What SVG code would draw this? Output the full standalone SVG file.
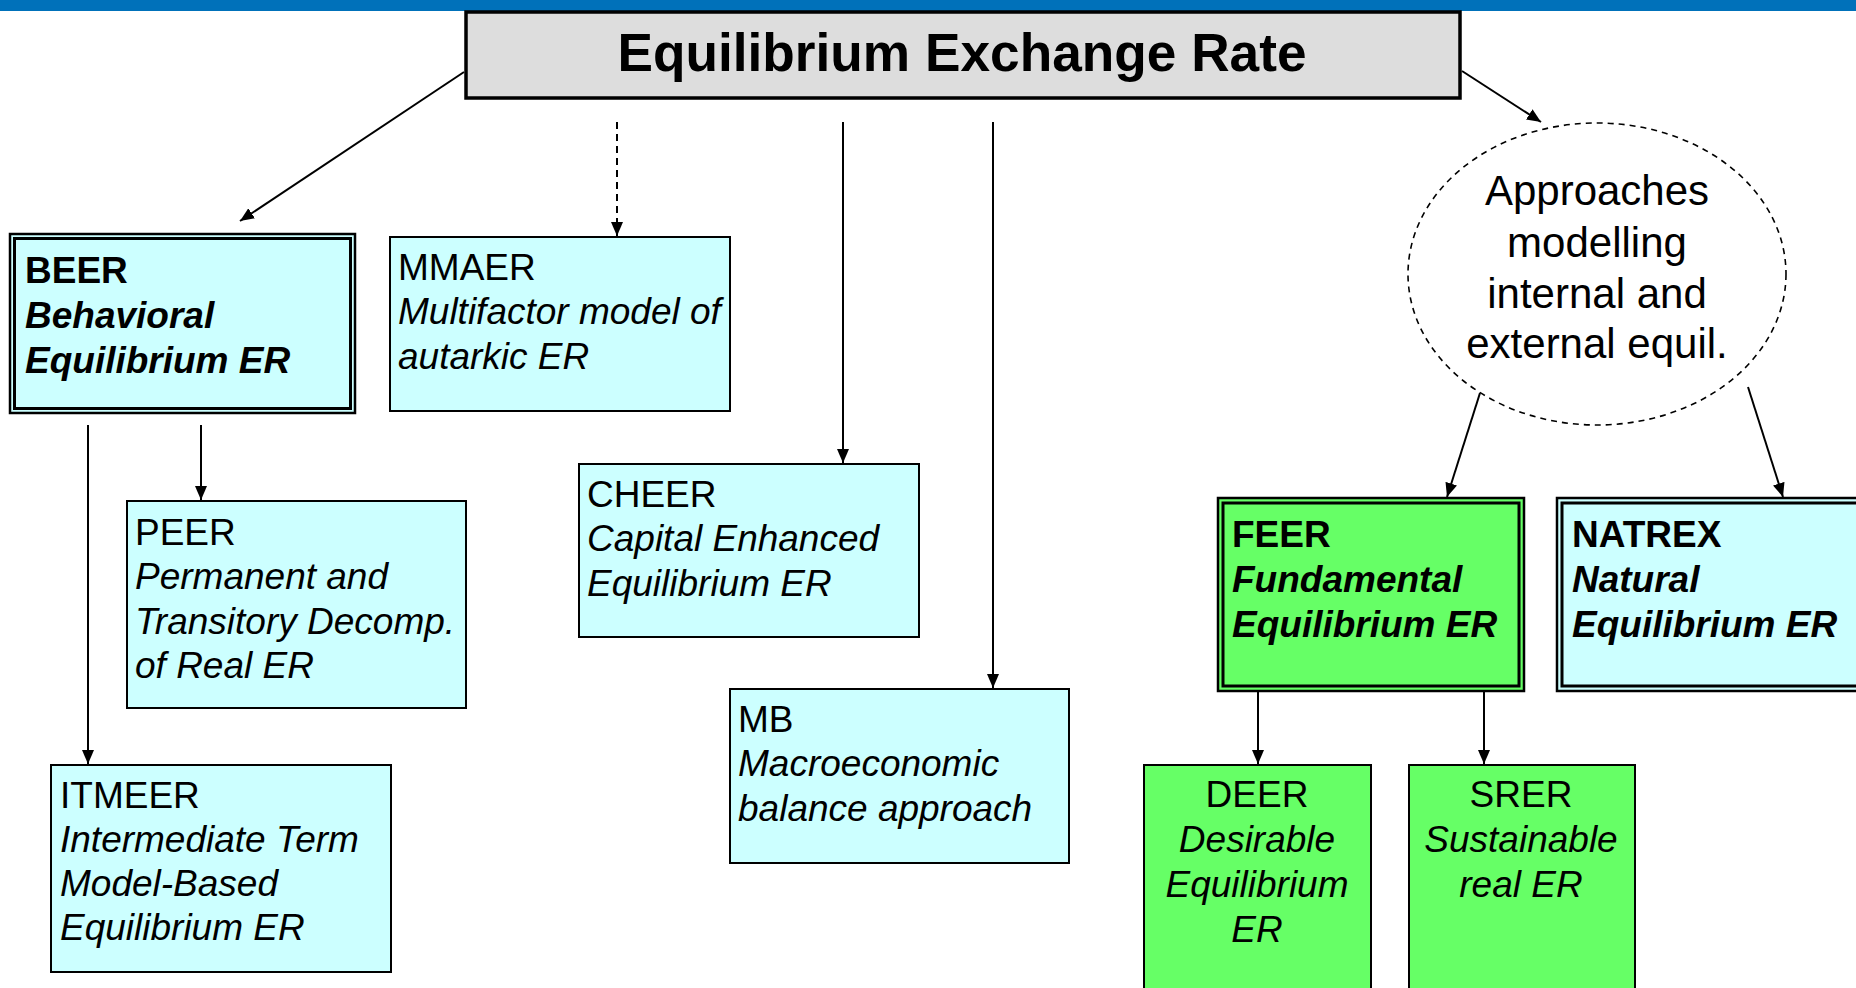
<svg xmlns="http://www.w3.org/2000/svg" width="1856" height="988" viewBox="0 0 1856 988">
<defs>
<marker id="ah" markerUnits="userSpaceOnUse" markerWidth="14" markerHeight="12" refX="14" refY="6" orient="auto">
<path d="M0,0 L14,6 L0,12 z" fill="#000"/>
</marker>
<style>
text{font-family:"Liberation Sans",Arial,sans-serif;fill:#000}
.t{font-size:37px}
.b{font-weight:bold}
.i{font-style:italic}
.box{fill:#CCFFFF;stroke:#000;stroke-width:2}
.gbox{fill:#66FF66;stroke:#000;stroke-width:2}
.outer{stroke:#000;stroke-width:2.5}
.inner{fill:none;stroke:#000;stroke-width:3}
.c{stroke:#000;stroke-width:2;fill:none;marker-end:url(#ah)}
.d{stroke-dasharray:7 5}
.mid{text-anchor:middle}
</style>
</defs>
<rect x="0" y="0" width="1856" height="11" fill="#0071BA"/>
<g id="connectors">
<line class="c" x1="464" y1="72" x2="240" y2="221"/>
<line class="c d" x1="617" y1="122" x2="617" y2="236"/>
<line class="c" x1="843" y1="122" x2="843" y2="463"/>
<line class="c" x1="993" y1="122" x2="993" y2="688"/>
<line class="c" x1="1462" y1="71" x2="1541" y2="122"/>
<line class="c" x1="1480" y1="393" x2="1447" y2="497"/>
<line class="c" x1="1748" y1="387" x2="1783" y2="497"/>
<line class="c" x1="201" y1="425" x2="201" y2="500"/>
<line class="c" x1="88" y1="425" x2="88" y2="764"/>
<line class="c" x1="1258" y1="689" x2="1258" y2="764"/>
<line class="c" x1="1484" y1="689" x2="1484" y2="764"/>
</g>
<g id="title">
<rect x="466" y="12" width="994" height="86" fill="#DDDDDD" stroke="#000" stroke-width="3.5"/>
<text x="962" y="71" class="b mid" font-size="54" textLength="689" lengthAdjust="spacingAndGlyphs">Equilibrium Exchange Rate</text>
</g>
<g id="beer">
<rect x="10" y="234" width="345" height="179" fill="#CCFFFF" class="outer"/>
<rect x="14.5" y="238.5" width="336" height="170" class="inner"/>
<text class="t b" x="25" y="283">BEER</text>
<text class="t b i" x="25" y="328">Behavioral</text>
<text class="t b i" x="25" y="373">Equilibrium ER</text>
</g>
<g id="mmaer">
<rect class="box" x="390" y="237" width="340" height="174"/>
<text class="t" x="398" y="280">MMAER</text>
<text class="t i" x="398" y="324">Multifactor model of</text>
<text class="t i" x="398" y="369">autarkic ER</text>
</g>
<g id="peer">
<rect class="box" x="127" y="501" width="339" height="207"/>
<text class="t" x="135" y="545">PEER</text>
<text class="t i" x="135" y="589">Permanent and</text>
<text class="t i" x="135" y="634">Transitory Decomp.</text>
<text class="t i" x="135" y="678">of Real ER</text>
</g>
<g id="itmeer">
<rect class="box" x="51" y="765" width="340" height="207"/>
<text class="t" x="60" y="808">ITMEER</text>
<text class="t i" x="60" y="852">Intermediate Term</text>
<text class="t i" x="60" y="896">Model-Based</text>
<text class="t i" x="60" y="940">Equilibrium ER</text>
</g>
<g id="cheer">
<rect class="box" x="579" y="464" width="340" height="173"/>
<text class="t" x="587" y="507">CHEER</text>
<text class="t i" x="587" y="551">Capital Enhanced</text>
<text class="t i" x="587" y="596">Equilibrium ER</text>
</g>
<g id="mb">
<rect class="box" x="730" y="689" width="339" height="174"/>
<text class="t" x="738" y="732">MB</text>
<text class="t i" x="738" y="776">Macroeconomic</text>
<text class="t i" x="738" y="821">balance approach</text>
</g>
<g id="approaches">
<ellipse cx="1597" cy="274" rx="189" ry="151" fill="#fff" stroke="#000" stroke-width="1.6" stroke-dasharray="6 5"/>
<text class="mid" font-size="42" x="1597" y="205">Approaches</text>
<text class="mid" font-size="42" x="1597" y="257">modelling</text>
<text class="mid" font-size="42" x="1597" y="308">internal and</text>
<text class="mid" font-size="42" x="1597" y="358">external equil.</text>
</g>
<g id="feer">
<rect x="1218" y="498" width="306" height="193" fill="#66FF66" class="outer"/>
<rect x="1223" y="503" width="296" height="183" class="inner"/>
<text class="t b" x="1232" y="547">FEER</text>
<text class="t b i" x="1232" y="592">Fundamental</text>
<text class="t b i" x="1232" y="637">Equilibrium ER</text>
</g>
<g id="natrex">
<rect x="1557" y="498" width="320" height="193" fill="#CCFFFF" class="outer"/>
<rect x="1562" y="503" width="310" height="183" class="inner"/>
<text class="t b" x="1572" y="547">NATREX</text>
<text class="t b i" x="1572" y="592">Natural</text>
<text class="t b i" x="1572" y="637">Equilibrium ER</text>
</g>
<g id="deer">
<rect class="gbox" x="1144" y="765" width="227" height="240"/>
<text class="t mid" x="1257" y="807">DEER</text>
<text class="t i mid" x="1257" y="852">Desirable</text>
<text class="t i mid" x="1257" y="897">Equilibrium</text>
<text class="t i mid" x="1257" y="942">ER</text>
</g>
<g id="srer">
<rect class="gbox" x="1409" y="765" width="226" height="240"/>
<text class="t mid" x="1521" y="807">SRER</text>
<text class="t i mid" x="1521" y="852">Sustainable</text>
<text class="t i mid" x="1521" y="897">real ER</text>
</g>
</svg>
